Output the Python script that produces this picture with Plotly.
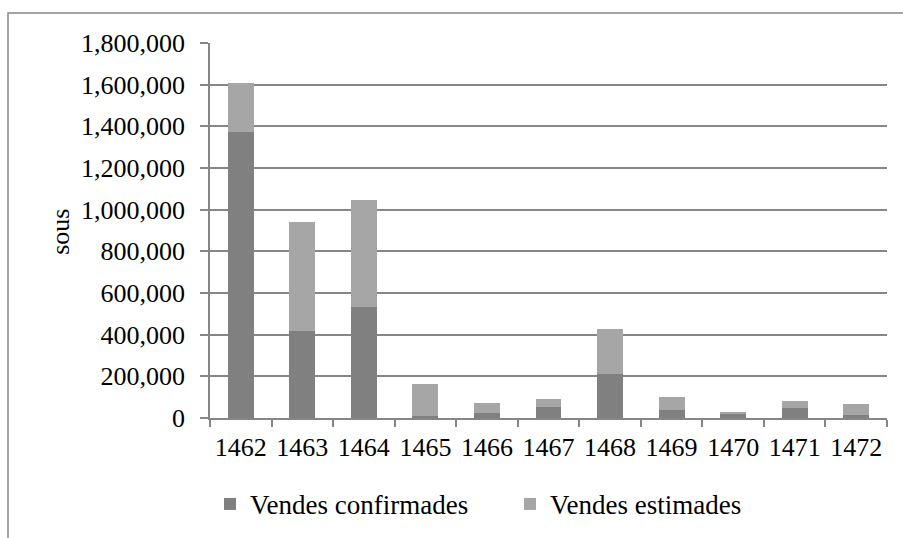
import plotly.graph_objects as go

years = ["1462", "1463", "1464", "1465", "1466", "1467", "1468", "1469", "1470", "1471", "1472"]
vendes_confirmades = [1375000, 420000, 535000, 11000, 22000, 51000, 211000, 36500, 19000, 46000, 16000]
vendes_estimades = [235000, 520000, 512000, 152000, 51500, 41500, 214000, 62500, 10000, 35500, 52500]
y_ticks = [0, 200000, 400000, 600000, 800000, 1000000, 1200000, 1400000, 1600000, 1800000]

FONT = "Liberation Serif"
GRID = "#868686"

fig = go.Figure()
fig.add_trace(go.Bar(x=years, y=vendes_confirmades, name="Vendes confirmades",
                     marker=dict(color="#808080", line=dict(width=0))))
fig.add_trace(go.Bar(x=years, y=vendes_estimades, name="Vendes estimades",
                     marker=dict(color="#a6a6a6", line=dict(width=0))))

L, R, T, B = 210, 16, 43, 119.5
W, H = 903, 538
pw = W - L - R
ph = H - T - B

def px_x(x):
    return (x - L) / pw

def px_y(y):
    return (H - B - y) / ph

fig.update_layout(
    width=W, height=H,
    margin=dict(l=L, r=R, t=T, b=B, pad=0, autoexpand=False),
    barmode="stack", bargap=0.58,
    plot_bgcolor="white", paper_bgcolor="white",
    font=dict(family=FONT, color="black"),
    showlegend=True,
    legend=dict(orientation="h", x=px_x(210), xanchor="left", y=px_y(505), yanchor="middle",
                font=dict(size=27, family=FONT), traceorder="normal",
                entrywidth=255, entrywidthmode="pixels", itemwidth=30),
    xaxis=dict(type="category", showgrid=False, showline=True, linecolor=GRID, linewidth=1.5,
               ticks="outside", tickson="boundaries", ticklen=7, tickcolor=GRID, tickwidth=1.5,
               tickfont=dict(size=26, family=FONT), tickangle=0, ticklabelstandoff=5,
               automargin=False),
    yaxis=dict(range=[0, 1800000], tickvals=y_ticks, tickformat=",", showgrid=True,
               gridcolor=GRID, gridwidth=1.5, showline=True, linecolor=GRID, linewidth=1.5,
               ticks="outside", ticklen=8, tickcolor=GRID, tickwidth=1.5,
               tickfont=dict(size=26, family=FONT), ticklabelstandoff=10, zeroline=False,
               automargin=False),
    annotations=[dict(text="sous", xref="paper", yref="paper", x=px_x(61), y=px_y(232),
                      textangle=-90, showarrow=False, font=dict(size=26, family=FONT),
                      xanchor="center", yanchor="middle")],
    shapes=[dict(type="rect", xref="paper", yref="paper", x0=px_x(8), x1=px_x(915),
                 y0=px_y(560), y1=px_y(13), line=dict(color=GRID, width=1.5),
                 fillcolor="rgba(0,0,0,0)", layer="below")],
)

fig.write_html("out.html", config={"displayModeBar": False},
               post_script="document.body.style.margin='0px';document.body.style.overflow='hidden';")
